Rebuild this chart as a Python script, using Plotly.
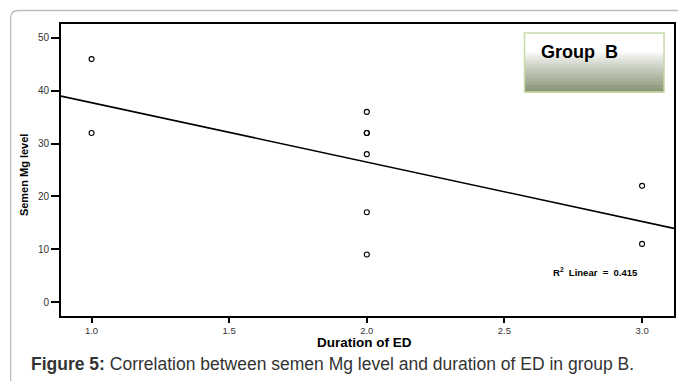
import plotly.graph_objects as go
import numpy as np

# data (two patients share the point 2.0 / 32, which gives R² = 0.415)
duration = [1, 1, 2, 2, 2, 2, 2, 2, 3, 3]
semen_mg = [46, 32, 36, 32, 32, 28, 17, 9, 22, 11]
x_ticks = [1.0, 1.5, 2.0, 2.5, 3.0]
x_tick_labels = ["1.0", "1.5", "2.0", "2.5", "3.0"]
y_ticks = [0, 10, 20, 30, 40, 50]
r2_label = "R<sup>2</sup>  Linear  =  0.415"
x_range = [0.889, 3.116]
y_range = [-2.65, 52.65]

# linear fit from data
slope, intercept = np.polyfit(duration, semen_mg, 1)
fit_x = x_range
fit_y = [intercept + slope * v for v in fit_x]

W, H = 678, 381
ml, mr, mt, mb = 61, 2, 24, 65

fig = go.Figure()
fig.add_trace(go.Scatter(x=fit_x, y=fit_y, mode="lines",
                         line=dict(color="black", width=1.6), hoverinfo="skip"))
fig.add_trace(go.Scatter(x=duration, y=semen_mg, mode="markers",
                         marker=dict(symbol="circle-open", size=5, color="black",
                                     line=dict(width=1.1, color="black"))))

def px2paper_x(px):
    return (px - ml) / (W - ml - mr)

def px2paper_y(py):
    return (H - mb - py) / (H - mt - mb)

shapes = []
# outer rounded panel border (top line, left line, corner)
border = dict(color="#bdbdbd", width=1.3)
shapes.append(dict(type="line", xref="paper", yref="paper",
                   x0=px2paper_x(18), x1=px2paper_x(700),
                   y0=px2paper_y(10.5), y1=px2paper_y(10.5), line=border))
shapes.append(dict(type="line", xref="paper", yref="paper",
                   x0=px2paper_x(10.5), x1=px2paper_x(10.5),
                   y0=px2paper_y(18), y1=px2paper_y(400), line=border))
shapes.append(dict(type="path", xref="paper", yref="paper",
                   path="M {a},{b} Q {a},{c} {d},{c}".format(
                       a=px2paper_x(10.5), b=px2paper_y(18),
                       c=px2paper_y(10.5), d=px2paper_x(18)),
                   line=border))

# gradient box
bx0, bx1, by0, by1 = 526, 666, 33, 92
n = 40
top = np.array([255, 255, 255])
bot = np.array([138, 148, 118])
for i in range(n):
    t = i / (n - 1)
    f = 0 if t < 0.3 else ((t - 0.3) / 0.7) ** 0.9
    c = top + (bot - top) * f
    ya = by0 + (by1 - by0) * i / n
    yb = by0 + (by1 - by0) * (i + 1) / n + 0.5
    shapes.append(dict(type="rect", xref="paper", yref="paper",
                       x0=px2paper_x(bx0), x1=px2paper_x(bx1),
                       y0=px2paper_y(yb), y1=px2paper_y(ya),
                       fillcolor="rgb(%d,%d,%d)" % tuple(c), line=dict(width=0)))
shapes.append(dict(type="rect", xref="paper", yref="paper",
                   x0=px2paper_x(bx0), x1=px2paper_x(bx1),
                   y0=px2paper_y(by1), y1=px2paper_y(by0),
                   line=dict(color="#c8dca6", width=1.5)))

annotations = [
    dict(text="<b>Group  B</b>", xref="paper", yref="paper",
         x=px2paper_x(541), y=px2paper_y(52), xanchor="left", yanchor="middle",
         showarrow=False, font=dict(family="Liberation Sans, Arial", size=18, color="black")),
    dict(text="<b>" + r2_label + "</b>", xref="paper", yref="paper",
         x=px2paper_x(553), y=px2paper_y(272), xanchor="left", yanchor="middle",
         showarrow=False, font=dict(family="Liberation Sans, Arial", size=9.5, color="black")),
    dict(text="<b>Duration of ED</b>", xref="paper", yref="paper",
         x=px2paper_x(365), y=px2paper_y(342), xanchor="center", yanchor="middle",
         showarrow=False, font=dict(family="Liberation Sans, Arial", size=13.5, color="black")),
    dict(text="<b>Semen Mg level</b>", xref="paper", yref="paper",
         x=px2paper_x(24), y=px2paper_y(175), xanchor="center", yanchor="middle",
         textangle=-90, showarrow=False,
         font=dict(family="Liberation Sans Narrow, Liberation Sans, Arial", size=11, color="black")),
    dict(text="<b>Figure 5:</b> Correlation between semen Mg level and duration of ED in group B.",
         xref="paper", yref="paper",
         x=px2paper_x(29), y=px2paper_y(364), xanchor="left", yanchor="middle",
         showarrow=False, font=dict(family="Liberation Sans, Arial", size=17.5, color="#333333")),
]

fig.update_layout(
    width=W, height=H,
    margin=dict(l=ml, r=mr, t=mt, b=mb, pad=0),
    paper_bgcolor="white", plot_bgcolor="white",
    showlegend=False,
    shapes=shapes, annotations=annotations,
    xaxis=dict(range=x_range, tickvals=x_ticks, ticktext=x_tick_labels,
               showgrid=False, zeroline=False, showline=True, mirror=True,
               linecolor="black", linewidth=2, ticks="outside", ticklen=5,
               tickwidth=2, tickcolor="black",
               tickfont=dict(family="Liberation Sans, Arial", size=9.5, color="#333333")),
    yaxis=dict(range=y_range, tickvals=y_ticks,
               showgrid=False, zeroline=False, showline=True, mirror=True,
               linecolor="black", linewidth=2, ticks="outside", ticklen=8,
               tickwidth=2, tickcolor="black",
               tickfont=dict(family="Liberation Sans, Arial", size=10, color="#333333")),
)

fig.write_html("out.html", config={"displayModeBar": False},
               post_script="document.body.style.margin='0';document.body.style.overflow='hidden';")
